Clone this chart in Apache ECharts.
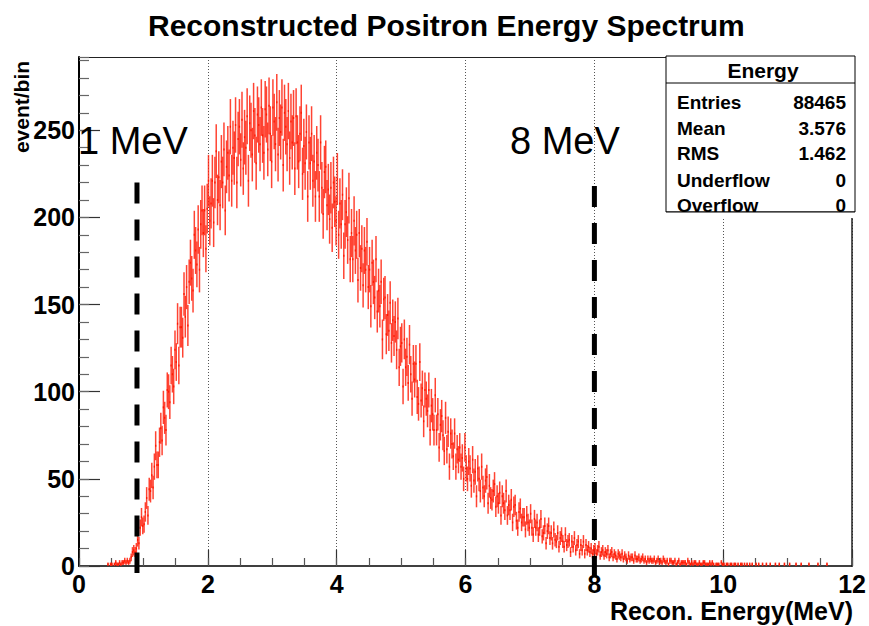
<!DOCTYPE html>
<html>
<head>
<meta charset="utf-8">
<script src="https://cdn.jsdelivr.net/npm/echarts@6/dist/echarts.min.js"></script>
<style>html,body{margin:0;padding:0;background:#fff;}#chart{width:869px;height:626px;}</style>
</head>
<body>
<div id="chart"></div>
<script>
// ---- data ----
const titleText = 'Reconstructed Positron Energy Spectrum';
const xAxisTitle = 'Recon. Energy(MeV)';
const yAxisTitle = 'event/bin';
const xRange = [0, 12];
const yRange = [0, 292];
const binStart = 0.40;   // MeV, lower edge of first listed bin
const binWidth = 0.02;   // MeV
// heights (event/bin), one row = 0.5 MeV
const counts = [
  0,0,1,0,1,1,0,1,2,1,1,2,1,2,2,3,2,3,2,3,5,8,9,8,10,
  15,13,22,28,23,24,31,39,29,44,43,52,45,57,69,58,58,71,79,72,91,85,78,101,100,
  94,115,110,103,124,117,139,115,137,137,131,156,143,160,138,163,174,165,158,190,181,173,193,170,196,
  204,191,204,182,205,221,198,208,221,197,220,238,210,223,207,232,220,239,204,229,237,224,252,221,240,
  234,253,220,245,252,233,256,228,246,240,258,221,254,250,236,261,247,231,259,253,242,263,247,237,262,
  259,239,264,248,232,263,255,242,266,236,257,249,263,230,260,252,242,261,234,255,243,257,228,258,243,
  232,248,260,225,241,231,249,212,243,231,248,221,232,212,237,230,212,243,217,202,226,229,207,216,199,
  217,194,220,209,198,222,190,208,196,213,178,196,203,187,211,176,191,176,198,181,190,164,191,171,182,
  161,181,170,186,160,170,149,174,163,154,176,146,158,149,163,130,153,154,133,144,135,151,128,141,132,
  140,124,142,114,126,128,103,130,114,120,105,127,110,96,116,107,116,97,93,117,95,102,83,101,96,
  89,101,78,92,87,78,98,78,87,68,81,86,75,66,85,67,77,57,76,70,63,76,57,67,61,
  68,57,62,50,68,56,50,60,56,46,61,49,54,40,56,50,43,57,45,40,49,51,36,46,39,
  38,43,47,34,40,36,42,29,40,36,32,43,29,35,32,38,25,34,35,26,22,31,33,25,28,
  28,21,29,25,22,30,22,18,27,22,25,18,22,27,17,19,23,13,20,23,16,19,13,21,15,
  14,19,11,16,18,14,11,18,12,14,15,8,14,11,16,9,12,14,7,12,9,14,7,12,9,
  11,8,10,7,9,10,7,9,11,6,8,9,6,8,7,9,5,7,8,5,7,6,4,7,6,
  5,7,4,6,5,3,6,4,5,5,3,6,4,4,5,3,4,5,3,4,2,4,3,4,3,
  3,4,2,3,4,2,3,2,4,3,2,3,1,3,3,2,2,3,1,2,3,1,2,2,2,
  2,1,3,2,1,2,1,2,2,1,1,2,1,1,2,2,1,1,1,2,1,2,1,0,1,
  1,1,0,2,1,1,0,1,1,0,1,1,0,1,1,0,1,0,1,1,0,1,0,1,0,
  1,0,1,0,0,1,0,1,0,0,1,0,0,1,0,0,1,0,0,0,1,0,0,1,0,
  0,0,1,0,0,0,1,0,0,0,0,1,0,0,0,1,0,0,0,0,0,1,0,0,0,
  0,0,0,1,0,0,0,0,0,0,1,0,0,0,0,0,0,0,0,0,0,0,0,0,0
];
const statsTitle = 'Energy';
const statsLabels = ['Entries', 'Mean', 'RMS', 'Underflow', 'Overflow'];
const statsValues = ['88465', '3.576', '1.462', '0', '0'];
const cutEnergies = [0.9, 8];
const cutLabels = ['1 MeV', '8 MeV'];
const cutTops = [220, 218];
const cutBottoms = [-4, -10];

// ---- chart ----
const FONT = "'Liberation Sans', Arial, Helvetica, sans-serif";
const chart = echarts.init(document.getElementById('chart'), null, {renderer: 'svg'});
const histData = counts.map((c, i) => [binStart + i * binWidth, c]);

const cutSeries = cutEnergies.map((e, k) => ({
  type: 'line', xAxisIndex: 0, yAxisIndex: 0, clip: false, silent: true,
  symbol: 'none', z: 5,
  data: [[e, cutTops[k]], [e, cutBottoms[k]]],
  lineStyle: {color: '#000', width: 5, type: [21, 16], cap: 'butt'}
}));

const boldText = (size) => ({fontFamily: FONT, fontWeight: 'bold', fontSize: size, color: '#000'});

const box = {left: 666, top: 56, right: 855, bottom: 212};
const graphics = [
  {type: 'text', z: 100, x: 21, y: 107, rotation: Math.PI / 2,
   style: {text: yAxisTitle, font: 'bold 21px ' + FONT, fill: '#000', align: 'center', verticalAlign: 'middle'}},
  {type: 'text', z: 100, x: 853, y: 611,
   style: {text: xAxisTitle, font: 'bold 25px ' + FONT, fill: '#000', align: 'right', verticalAlign: 'middle'}},
  {type: 'rect', z: 100, shape: {x: box.left, y: box.top, width: box.right - box.left, height: box.bottom - box.top},
   style: {fill: '#fff', stroke: '#000', lineWidth: 1}},
  {type: 'line', z: 101, shape: {x1: box.left, y1: 83, x2: box.right, y2: 83}, style: {stroke: '#000', lineWidth: 1}},
  {type: 'text', z: 101, x: 763, y: 70,
   style: {text: statsTitle, font: 'bold 21px ' + FONT, fill: '#000', align: 'center', verticalAlign: 'middle'}},
  {type: 'text', z: 100, x: 78, y: 141,
   style: {text: cutLabels[0], font: '38px ' + FONT, fill: '#000', align: 'left', verticalAlign: 'middle'}},
  {type: 'text', z: 100, x: 510, y: 141,
   style: {text: cutLabels[1], font: '38px ' + FONT, fill: '#000', align: 'left', verticalAlign: 'middle'}}
];
const rowY = [102, 128, 153, 180, 205];
statsLabels.forEach((lab, i) => {
  graphics.push({type: 'text', z: 101, x: 677, y: rowY[i],
    style: {text: lab, font: 'bold 19px ' + FONT, fill: '#000', align: 'left', verticalAlign: 'middle'}});
  graphics.push({type: 'text', z: 101, x: 846, y: rowY[i],
    style: {text: statsValues[i], font: 'bold 19px ' + FONT, fill: '#000', align: 'right', verticalAlign: 'middle'}});
});
// the box bottom edge cuts the last row slightly
graphics.push({type: 'rect', z: 102, shape: {x: box.left - 1, y: box.bottom, width: box.right - box.left + 2, height: 6},
  style: {fill: '#fff'}});
graphics.push({type: 'line', z: 103, shape: {x1: box.left, y1: box.bottom, x2: box.right, y2: box.bottom},
  style: {stroke: '#000', lineWidth: 1}});

const option = {
  animation: false,
  backgroundColor: '#fff',
  title: {text: titleText, left: 143, top: 5, textStyle: boldText(30)},
  grid: {left: 79, right: 14, top: 57, bottom: 60},
  xAxis: [
    {type: 'value', min: xRange[0], max: xRange[1], interval: 2, position: 'bottom', offset: 0,
     axisLine: {show: true, onZero: false, lineStyle: {color: '#000', width: 1.5}},
     axisTick: {show: true, inside: true, length: 16, lineStyle: {color: '#333', width: 1.2}},
     axisLabel: {margin: 5, ...boldText(25)},
     splitLine: {show: true, lineStyle: {type: [1, 2], color: '#555', width: 1}}},
    {type: 'value', min: xRange[0], max: xRange[1], interval: 0.5, position: 'bottom', offset: 0,
     axisLine: {show: false, onZero: false}, axisLabel: {show: false}, splitLine: {show: false},
     axisTick: {show: true, inside: true, length: 8, lineStyle: {color: '#555', width: 1.2}}},
    {type: 'value', min: xRange[0], max: xRange[1], position: 'top', offset: 0,
     axisLine: {show: true, onZero: false, lineStyle: {color: '#222', width: 1.2}},
     axisTick: {show: false}, axisLabel: {show: false}, splitLine: {show: false}}
  ],
  yAxis: [
    {type: 'value', min: yRange[0], max: yRange[1], interval: 50, position: 'left', offset: 0,
     axisLine: {show: true, onZero: false, lineStyle: {color: '#000', width: 2}},
     axisTick: {show: true, inside: true, length: 21, lineStyle: {color: '#333', width: 1.2}},
     axisLabel: {margin: 4, showMaxLabel: false, ...boldText(25)},
     splitLine: {show: false}},
    {type: 'value', min: yRange[0], max: yRange[1], interval: 10, position: 'left', offset: 0,
     axisLine: {show: false, onZero: false}, axisLabel: {show: false}, splitLine: {show: false},
     axisTick: {show: true, inside: true, length: 10, lineStyle: {color: '#666', width: 1.2}}},
    {type: 'value', min: yRange[0], max: yRange[1], position: 'right', offset: 0,
     axisLine: {show: true, onZero: false, lineStyle: {color: '#222', width: 1.5}},
     axisTick: {show: false}, axisLabel: {show: false}, splitLine: {show: false}}
  ],
  series: [
    {
      type: 'custom', xAxisIndex: 0, yAxisIndex: 0, z: 3, silent: true,
      data: histData,
      renderItem: function (params, api) {
        const x0 = api.value(0), v = api.value(1);
        if (v <= 0) return null;
        const err = Math.sqrt(v);
        const pL = api.coord([x0, v]);
        const pR = api.coord([x0 + binWidth, v]);
        const pT = api.coord([x0 + binWidth / 2, v + err]);
        const pB = api.coord([x0 + binWidth / 2, Math.max(0, v - err)]);
        return {
          type: 'group',
          children: [
            {type: 'line', shape: {x1: pT[0], y1: pT[1], x2: pB[0], y2: pB[1]},
             style: {stroke: 'rgba(255,35,15,0.85)', lineWidth: 1.5}},
            {type: 'line', shape: {x1: pL[0], y1: pL[1], x2: pR[0], y2: pR[1]},
             style: {stroke: 'rgb(255,25,0)', lineWidth: 2}}
          ]
        };
      }
    },
    ...cutSeries
  ],
  graphic: graphics
};
chart.setOption(option);
</script>
</body>
</html>
